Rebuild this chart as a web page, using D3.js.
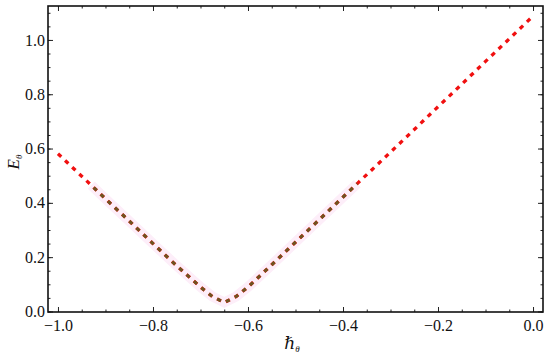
<!DOCTYPE html>
<html>
<head>
<meta charset="utf-8">
<script src="https://cdn.jsdelivr.net/npm/d3@7.9.0/dist/d3.min.js"></script>
<style>
  body { margin: 0; background: #fff; }
  svg text { font-family: "Liberation Serif", "DejaVu Serif", serif; fill: #111; }
</style>
</head>
<body>
<svg id="chart" width="550" height="359"></svg>
<script>
// values
const hbar = [-1.00, -0.95, -0.93, -0.90, -0.85, -0.80, -0.75, -0.70, -0.675, -0.65, -0.625, -0.60, -0.55, -0.50, -0.45, -0.40, -0.37, -0.35, -0.30, -0.25, -0.20, -0.15, -0.10, -0.05, 0.00];
const energy = [0.581, 0.498, 0.465, 0.415, 0.333, 0.250, 0.168, 0.090, 0.055, 0.033, 0.055, 0.090, 0.172, 0.255, 0.338, 0.421, 0.471, 0.504, 0.587, 0.670, 0.754, 0.837, 0.921, 1.004, 1.088];
// second (overlaid) series, shorter range
const hbar2 = [-0.93, -0.90, -0.85, -0.80, -0.75, -0.70, -0.675, -0.65, -0.625, -0.60, -0.55, -0.50, -0.45, -0.40, -0.37];
const energy2 = [0.465, 0.415, 0.333, 0.250, 0.168, 0.090, 0.055, 0.033, 0.055, 0.090, 0.172, 0.255, 0.338, 0.421, 0.471];
const xTicks = [-1.0, -0.8, -0.6, -0.4, -0.2, 0.0];
const yTicks = [0.0, 0.2, 0.4, 0.6, 0.8, 1.0];

const svg = d3.select('#chart');
const mLeft = 48, mRight = 543, mTop = 6, mBottom = 312;

let x = d3.scaleLinear().domain([-1.021, 0.021]).range([mLeft, mRight]);
let y = d3.scaleLinear().domain([-0.002, 1.125]).range([mBottom, mTop]);

let minorX = d3.range(-1.0, 0.0001, 0.05);
let minorY = d3.range(0.0, 1.1001, 0.05);
let fmt = d3.format('.1f');
const dash = '4.5 5.3';

// data lines
let line = d3.line().x((d) => x(d[0])).y((d) => y(d[1]));
let pts = hbar.map((h, i) => [h, energy[i]]);
let pts2 = hbar2.map((h, i) => [h, energy2[i]]);

svg.append('path')
  .attr('d', line(pts2))
  .attr('fill', 'none')
  .attr('stroke', '#fdeef9')
  .attr('stroke-width', 10);

svg.append('path')
  .attr('d', line(pts))
  .attr('fill', 'none')
  .attr('stroke', '#f01010')
  .attr('stroke-width', 3.3)
  .attr('stroke-dasharray', dash);

// phase of the red pattern where the brown line starts, so the dots overlap
let lead = svg.append('path').attr('d', line(pts.filter((d) => d[0] <= hbar2[0])));
let offset = lead.node().getTotalLength();
lead.remove();

svg.append('path')
  .attr('d', line(pts2))
  .attr('fill', 'none')
  .attr('stroke', '#6e5420')
  .attr('stroke-width', 3.1)
  .attr('stroke-dasharray', '4.1 5.7')
  .attr('stroke-dashoffset', offset - 0.2);

// frame axes, ticks pointing inward
function frameAxis(axisFn, scale, values, size, pos, labels) {
  let a = axisFn(scale).tickValues(values).tickSizeInner(-size).tickSizeOuter(0);
  a.tickFormat(labels ? fmt : '');
  let g = svg.append('g').attr('transform', pos).call(a);
  g.select('.domain').remove();
  g.selectAll('line').attr('stroke', '#222').attr('stroke-width', 1);
  return g;
}

let gx = frameAxis(d3.axisBottom, x, xTicks, 5, `translate(0,${mBottom})`, true);
gx.selectAll('text').attr('font-size', 16).attr('dy', '1.0em');
frameAxis(d3.axisBottom, x, minorX, 2.5, `translate(0,${mBottom})`, false);
frameAxis(d3.axisTop, x, xTicks, 5, `translate(0,${mTop})`, false);
frameAxis(d3.axisTop, x, minorX, 2.5, `translate(0,${mTop})`, false);

let gy = frameAxis(d3.axisLeft, y, yTicks, 5, `translate(${mLeft},0)`, true);
gy.selectAll('text').attr('font-size', 16).attr('x', -3);
frameAxis(d3.axisLeft, y, minorY, 2.5, `translate(${mLeft},0)`, false);
frameAxis(d3.axisRight, y, yTicks, 5, `translate(${mRight},0)`, false);
frameAxis(d3.axisRight, y, minorY, 2.5, `translate(${mRight},0)`, false);

svg.selectAll('.tick text').attr('fill', '#111').attr('font-family', '"Liberation Serif", serif');

// frame box
svg.append('rect')
  .attr('x', mLeft).attr('y', mTop)
  .attr('width', mRight - mLeft).attr('height', mBottom - mTop)
  .attr('fill', 'none')
  .attr('stroke', '#111')
  .attr('stroke-width', 1.6);

// axis labels
let xl = svg.append('text')
  .attr('x', 292).attr('y', 349)
  .attr('text-anchor', 'middle')
  .attr('font-size', 17)
  .attr('font-style', 'italic');
xl.append('tspan').text('\u210F');
xl.append('tspan').attr('font-size', 9).attr('dy', 3).text('\u03B8');

let yl = svg.append('text')
  .attr('transform', 'translate(19,162) rotate(-90)')
  .attr('text-anchor', 'middle')
  .attr('font-size', 17)
  .attr('font-style', 'italic');
yl.append('tspan').text('E');
yl.append('tspan').attr('font-size', 9).attr('dy', 3).text('\u03B8');
</script>
</body>
</html>
